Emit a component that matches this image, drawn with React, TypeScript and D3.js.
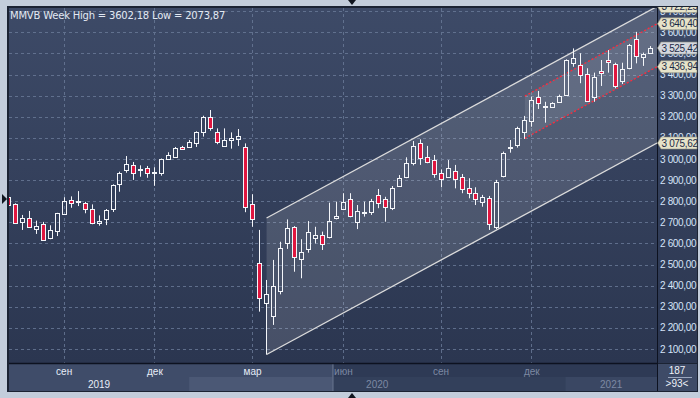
import React from 'react'
import * as d3 from 'd3'

// weekly candles, MMVB
const opens = [
  2820, 2786, 2700, 2719, 2667, 2692, 2627, 2660, 2740, 2806, 2795, 2793, 2762, 2696, 2714, 2762,
  2880, 2949, 2972, 2953, 2956, 2934, 2932, 3002, 3011, 3055, 3058, 3077, 3127, 3198, 3127, 3063,
  3089, 3096, 3058, 2786, 2506, 2317, 2258, 2376, 2601, 2677, 2525, 2572, 2624, 2639, 2632, 2719,
  2763, 2811, 2703, 2746, 2750, 2830, 2811, 2767, 2874, 2916, 2980, 3074, 3008, 2995, 2932, 2916,
  2945, 2913, 2861, 2838, 2798, 2814, 2679, 2920, 3053, 3066, 3129, 3181, 3295, 3249, 3248, 3271,
  3303, 3456, 3445, 3401, 3292, 3417, 3469, 3449, 3371, 3430, 3567, 3482, 3501
]
const highs = [
  2826, 2790, 2735, 2754, 2708, 2702, 2686, 2745, 2819, 2823, 2848, 2797, 2785, 2733, 2763, 2880,
  2940, 3014, 2986, 2970, 2967, 2961, 3002, 3032, 3057, 3062, 3090, 3131, 3205, 3232, 3145, 3145,
  3126, 3142, 3074, 2833, 2664, 2427, 2522, 2608, 2714, 2682, 2620, 2706, 2679, 2656, 2793, 2798,
  2838, 2838, 2782, 2798, 2811, 2858, 2821, 2872, 2924, 3008, 3085, 3093, 3062, 3019, 2951, 2995,
  2972, 2929, 2909, 2866, 2830, 2825, 2901, 3035, 3090, 3153, 3204, 3295, 3322, 3271, 3269, 3305,
  3472, 3524, 3501, 3430, 3409, 3469, 3516, 3456, 3456, 3545, 3602.18, 3504, 3535
]
const lows = [
  2775, 2692, 2664, 2674, 2645, 2613, 2620, 2635, 2736, 2769, 2777, 2743, 2691, 2684, 2687, 2749,
  2845, 2935, 2901, 2916, 2911, 2873, 2921, 2997, 3008, 3043, 3057, 3057, 3106, 3134, 3070, 3058,
  3049, 3062, 2748, 2679, 2277, 2073.87, 2214, 2359, 2574, 2466, 2435, 2556, 2600, 2569, 2624, 2714,
  2758, 2724, 2668, 2727, 2735, 2767, 2703, 2758, 2869, 2909, 2970, 2972, 2980, 2911, 2866, 2914,
  2861, 2838, 2814, 2782, 2774, 2664, 2668, 2913, 3030, 3054, 3095, 3153, 3237, 3172, 3245, 3267,
  3303, 3437, 3359, 3271, 3271, 3346, 3409, 3335, 3355, 3425, 3453, 3441, 3500
]
const closes = [
  2781, 2698, 2720, 2676, 2683, 2616, 2664, 2743, 2801, 2793, 2801, 2762, 2696, 2708, 2758, 2876,
  2932, 2975, 2935, 2955, 2935, 2938, 2999, 3019, 3051, 3046, 3079, 3127, 3200, 3148, 3079, 3089,
  3101, 3109, 2774, 2714, 2340, 2361, 2398, 2577, 2672, 2534, 2558, 2653, 2639, 2596, 2708, 2729,
  2798, 2730, 2754, 2751, 2801, 2790, 2774, 2861, 2909, 2980, 3062, 3003, 2984, 2928, 2907, 2956,
  2904, 2857, 2838, 2809, 2819, 2691, 2890, 3027, 3057, 3145, 3185, 3280, 3267, 3253, 3264, 3298,
  3469, 3477, 3398, 3276, 3387, 3406, 3458, 3347, 3425, 3540, 3488, 3497, 3525.42
]

const priceTicks = [2100, 2200, 2300, 2400, 2500, 2600, 2700, 2800, 2900, 3000, 3100, 3200, 3300, 3400, 3500, 3600, 3700]
const monthTicks = [8, 21, 35, 48, 62, 75]
const monthLabels = ['сен', 'дек', 'мар', 'июн', 'сен', 'дек']
const yearLabels = ['2019', '2020', '2021']
const yearBreaks = [25.9, 79.8] // bar index where the next year band begins
const highlightEnd = 46.5
const leftMarker = 2810

// channels: start bar and values at start / at the right edge
const bigChannel = { start: 37, lowStart: 2073.87, lowEnd: 3075.62, highStart: 2720.5, highEnd: 3722.25 }
const redChannel = { start: 74, lowStart: 3098, lowEnd: 3436.94, highStart: 3298, highEnd: 3640.4 }

const W = 700
const H = 398
const plot = { left: 9, right: 657, top: 8, bottom: 363 }
const FONT = '"Liberation Sans", Arial, sans-serif'

const ru = d3.formatLocale({ decimal: ',', thousands: ' ', grouping: [3], currency: ['', ''] })
const fmtPrice = ru.format(',.2f')
const fmtPlain = ru.format('.2f')

const x = d3.scaleLinear().domain([0, 92]).range([8.3, 650.5])
const y = d3.scaleLinear().domain([2100, 3000]).range([349, 159])

export default function App() {
  const edge = x.invert(plot.right)
  const n = closes.length
  const axisX = plot.right
  const axisBottom = plot.bottom + 28

  const channelPoly = (c: typeof bigChannel) =>
    [
      [x(c.start), y(c.lowStart)],
      [x(edge), y(c.lowEnd)],
      [x(edge), y(c.highEnd)],
      [x(c.start), y(c.highStart)]
    ]
      .map((p) => p.join(','))
      .join(' ')

  const tags = [
    { v: bigChannel.highEnd, bg: '#e6e3c9' },
    { v: redChannel.highEnd, bg: '#e6e3c9' },
    { v: closes[n - 1], bg: '#d3d7de' },
    { v: redChannel.lowEnd, bg: '#e6e3c9' },
    { v: bigChannel.lowEnd, bg: '#e6e3c9' }
  ]

  const bandEdges = [plot.left, x(yearBreaks[0]), x(yearBreaks[1]), plot.right]
  const hiX = x(highlightEnd)
  const row1 = plot.bottom + 1
  const row2 = plot.bottom + 14

  const title = `MMVB Week High = ${fmtPlain(d3.max(highs)!)} Low = ${fmtPlain(d3.min(lows)!)}`

  return (
    <div style={{ position: 'absolute', left: 0, top: 0 }}>
      <svg width={W} height={H} style={{ display: 'block', fontFamily: FONT }}>
        <defs>
          <linearGradient id="bg" x1="0" y1="0" x2="0" y2="1">
            <stop offset="0%" stopColor="#3d4a67" />
            <stop offset="100%" stopColor="#2b3650" />
          </linearGradient>
          <clipPath id="plotClip">
            <rect x={plot.left} y={plot.top} width={plot.right - plot.left} height={plot.bottom - plot.top} />
          </clipPath>
        </defs>

        <rect width={W} height={H} fill="#c3cddb" />
        <rect x={7} y={6} width={691} height={386} fill="#1b2333" />
        <rect x={plot.left} y={plot.top} width={W - 3 - plot.left} height={plot.bottom - plot.top} fill="url(#bg)" />

        {/* grid */}
        <g stroke="#6b7b99" strokeWidth={1} strokeDasharray="3,3" opacity={0.8}>
          {priceTicks.map((t) => (
            <line key={t} x1={plot.left} x2={plot.right} y1={Math.round(y(t)) + 0.5} y2={Math.round(y(t)) + 0.5} />
          ))}
          {monthTicks.map((t) => (
            <line key={t} x1={Math.floor(x(t)) + 0.5} x2={Math.floor(x(t)) + 0.5} y1={plot.top} y2={plot.bottom} />
          ))}
        </g>

        <g clipPath="url(#plotClip)">
          {/* channels */}
          <polygon points={channelPoly(bigChannel)} fill="#ffffff" fillOpacity={0.13} />
          <polygon points={channelPoly(redChannel)} fill="#ffffff" fillOpacity={0.09} />
          <g stroke="#dcdcdc" strokeWidth={1.3}>
            <line x1={x(bigChannel.start)} y1={y(bigChannel.lowStart)} x2={x(edge)} y2={y(bigChannel.lowEnd)} />
            <line x1={x(bigChannel.start)} y1={y(bigChannel.highStart)} x2={x(edge)} y2={y(bigChannel.highEnd)} />
          </g>
          <g stroke="#ff2a3c" strokeWidth={1.3} strokeDasharray="2,2">
            <line x1={x(redChannel.start)} y1={y(redChannel.lowStart)} x2={x(edge)} y2={y(redChannel.lowEnd)} />
            <line x1={x(redChannel.start)} y1={y(redChannel.highStart)} x2={x(edge)} y2={y(redChannel.highEnd)} />
          </g>

          {/* candles */}
          {closes.map((c, i) => {
            const o = opens[i]
            const px = Math.floor(x(i)) + 0.5
            const top = Math.round(y(Math.max(o, c)))
            const bot = Math.max(Math.round(y(Math.min(o, c))), top + 1)
            const up = c >= o
            return (
              <g key={i} stroke="#f4f6fa" strokeWidth={1}>
                <line x1={px} x2={px} y1={y(highs[i])} y2={top} />
                <line x1={px} x2={px} y1={bot} y2={y(lows[i])} />
                <rect
                  x={px - 2}
                  y={top + 0.5}
                  width={4}
                  height={bot - top}
                  fill={up ? 'none' : '#e0163f'}
                />
              </g>
            )
          })}
        </g>

        {/* right price axis */}
        <rect x={axisX} y={plot.top} width={W - 3 - axisX} height={plot.bottom - plot.top} fill="url(#bg)" />
        <line x1={axisX + 0.5} x2={axisX + 0.5} y1={plot.top} y2={axisBottom} stroke="#0d1220" />
        <g fontSize={10} fill="#d6e3f8" letterSpacing={-0.35}>
          {priceTicks.map((t) => (
            <text key={t} x={axisX + 3} y={y(t) + 3.5}>
              {fmtPrice(t)}
            </text>
          ))}
        </g>
        {tags.map((t, i) => {
          const cy = y(t.v)
          return (
            <g key={i}>
              <path
                d={`M${axisX + 0.5},${cy} L${axisX + 4},${cy - 6} L${W - 3},${cy - 6} L${W - 3},${cy + 6} L${axisX + 4},${cy + 6} Z`}
                fill={t.bg}
                stroke="#8e8e80"
                strokeWidth={0.6}
              />
              <text x={axisX + 4.5} y={cy + 3.6} fontSize={10} fill="#1d2b47" letterSpacing={-0.35}>
                {fmtPrice(t.v)}
              </text>
            </g>
          )
        })}

        {/* time axis */}
        <rect x={plot.left} y={row1} width={axisX - plot.left} height={axisBottom - row1} fill="#2e3a55" />
        <rect x={plot.left} y={row1} width={hiX - plot.left} height={row2 - row1} fill="#3f4c69" />
        <rect x={bandEdges[0]} y={row2} width={bandEdges[1] - bandEdges[0]} height={axisBottom - row2} fill="#3f4c69" />
        <rect x={bandEdges[1]} y={row2} width={hiX - bandEdges[1]} height={axisBottom - row2} fill="#4b5875" />
        <rect x={hiX} y={row2} width={bandEdges[2] - hiX} height={axisBottom - row2} fill="#33405b" />
        <rect x={bandEdges[2]} y={row2} width={bandEdges[3] - bandEdges[2]} height={axisBottom - row2} fill="#3a4763" />
        <line x1={hiX} x2={hiX} y1={row1} y2={axisBottom} stroke="#5d6a85" strokeWidth={1.5} />
        <line x1={plot.left} x2={axisX} y1={plot.bottom + 0.5} y2={plot.bottom + 0.5} stroke="#0d1220" strokeWidth={1.5} />
        <g fontSize={10} textAnchor="middle">
          {monthTicks.map((t, i) => (
            <text key={i} x={x(t)} y={row1 + 11} fill={x(t) < hiX ? '#e8eef8' : '#7d89a3'}>
              {monthLabels[i]}
            </text>
          ))}
          {yearLabels.map((l, i) => {
            const cx = (bandEdges[i] + bandEdges[i + 1]) / 2
            return (
              <text key={l} x={cx} y={row2 + 11} fill={cx < hiX ? '#e8eef8' : '#7d89a3'}>
                {l}
              </text>
            )
          })}
        </g>

        {/* corner cell */}
        <rect x={axisX + 1} y={row1} width={W - 4 - axisX} height={axisBottom - row1} fill="#3e4b67" />
        <g fontSize={10} fill="#eef2f8" textAnchor="middle">
          <text x={(axisX + W - 3) / 2} y={row1 + 10}>
            {String(187)}
          </text>
          <line x1={axisX + 11} x2={W - 8} y1={row1 + 13.5} y2={row1 + 13.5} stroke="#9aa6bd" />
          <text x={(axisX + W - 3) / 2} y={row2 + 10}>
            {`>${n}<`}
          </text>
        </g>

        {/* outer frame strips */}
        <rect x={0} y={0} width={W} height={6} fill="#c3cddb" />
        <line x1={7} x2={698} y1={6.5} y2={6.5} stroke="#1b2333" />
        <rect x={0} y={axisBottom + 1} width={W} height={H - axisBottom - 1} fill="#c3cddb" />
        <rect x={W - 2} y={0} width={2} height={H} fill="#c3cddb" />

        <title>{title}</title>
        <text x={10} y={19} fontSize={10} fill="#e3e9f3" fontFamily='"DejaVu Sans", Verdana, sans-serif' letterSpacing={-0.2}>
          {title}
        </text>

        {/* arrows */}
        <g fill="#10151f">
          <path d={`M2,${y(leftMarker) - 5} L7,${y(leftMarker)} L2,${y(leftMarker) + 5} Z`} />
          <path d="M348,0 L356,0 L352,5 Z" />
          <path d="M348,398 L356,398 L352,393 Z" />
        </g>
      </svg>
    </div>
  )
}
